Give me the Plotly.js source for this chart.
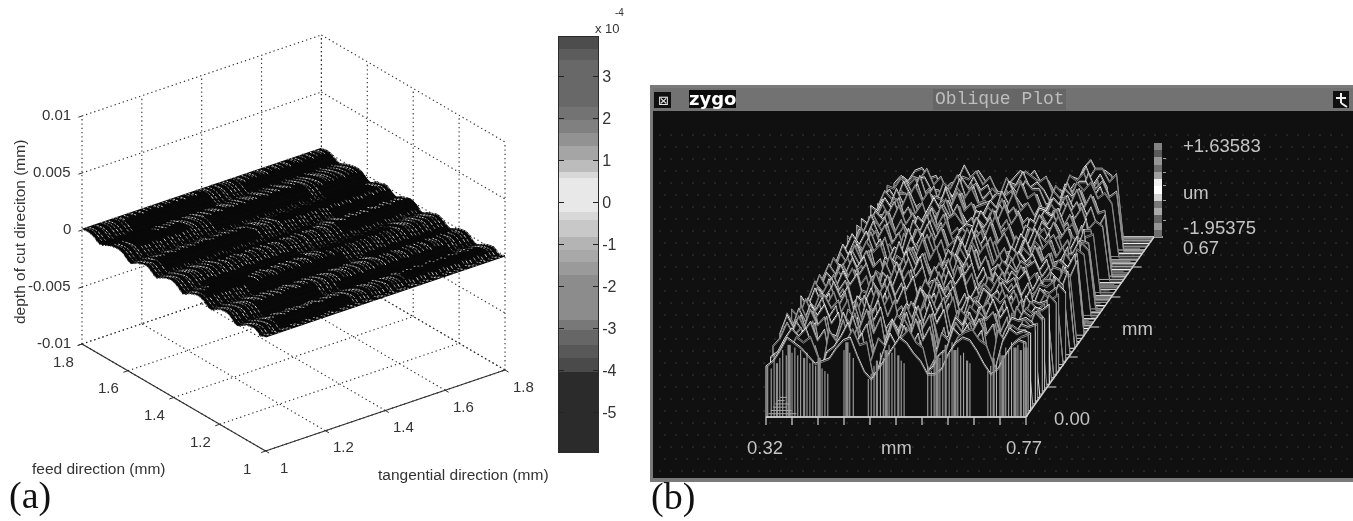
<!DOCTYPE html>
<html><head><meta charset="utf-8">
<script src="https://cdn.plot.ly/plotly-3.0.1.min.js"></script>
<style>html,body{margin:0;padding:0;background:#fff}#g{width:1353px;height:521px;filter:blur(0.45px)}</style>
</head><body><div id="g"></div>
<script>
// ---------- panel (a) data ----------
const tangentTicks=[1,1.2,1.4,1.6,1.8];
const feedTicks=[1,1.2,1.4,1.6,1.8];
const depthTicks=[-0.01,-0.005,0,0.005,0.01];
const depthTickText=['-0.01','-0.005','0','0.005','0.01'];
// surface height (1e-4 mm) along feed direction, back (1.8) to front (1.0)
const feedProfile=[.5,1,1.5,1,0,-2,-3.5,-3,-1.5,-.5,.5,1,1.5,1.5,.5,-1.5,-3.5,-4.5,-3,-1,-.5,.5,1.5,1,-1,-3,-4,-2.5,-1,0,1,1.5,1,-.5,-2.5,-4.5,-3.5,-1.5,-.5,.5,1.5,1.5,.5,-1.5,-3.5,-4,-2.5,-1,.5,1,1.5,1,-1,-3.5,-4.5,-3.5,-1.5,0,1,1.5,2,.5,-2,-1,0];
// small change (1e-4 mm) along tangential direction
const tangentProfile=[0,.5,-.5,1,-1,.5,0,-.5,1,.5,-1,0,1,-.5,.5,-1,0,.5,1,-.5,-1,.5,0,1,-.5,.5,-1,.5,0,-1,1,.5,-.5,0,1,-1,.5,0,-.5,1,.5,-1,0,.5,-.5,1,0,-1,.5,1,-.5,0,.5,-1,1,0,-.5,.5,1,-1,0,.5,-.5,0];
// stretches of the mesh that read as black: [first row, last row, first column, last column]
const darkPatches=[[2,6,10,30],[3,5,40,62],[10,13,5,18],[11,15,24,48],[18,22,36,60],[20,24,4,28],[26,28,14,40],[30,33,44,63],[34,37,6,30],[36,39,34,52],[42,45,12,36],[44,47,42,62],[50,54,8,22],[52,55,28,56],[57,60,40,60],[58,61,6,24],[14,17,52,63],[6,9,0,12],[24,27,48,63],[38,41,2,14]];
const barEdges=[-5.95,-4.05,-3.71,-3.40,-3.05,-2.81,-1.74,-1.43,-1.14,-0.83,-0.43,-0.24,0.57,0.71,1.0,1.33,1.64,1.95,2.26,3.38,3.64,3.93];
const barGrays=[43,74,88,102,120,140,154,168,180,200,216,232,216,188,165,146,128,115,104,92,77];
const barTicks=[-5,-4,-3,-2,-1,0,1,2,3];

// ---------- panel (b) data ----------
const N=-19.5; // no data: the row sits on the base plane
// height (0.1 um) back row to front row, 0.32 to 0.77 mm
const obliqueRows=[
[1,4,2,6,7,3,4,-2,1,2,8,3,6,2,1,-3,0,3,6,3,6,1,2,-3,-3,2,1,7,10,5,6,4,N,N,N,N,N,N],
[0,2,5,4,8,2,5,-1,-2,5,4,7,2,5,-1,-1,2,1,7,5,3,5,-2,0,-3,3,4,4,8,8,3,6,N,N,N,N,N,N],
[2,1,6,3,5,6,1,1,-3,3,7,1,6,1,3,-4,0,4,3,8,2,4,1,-4,-1,0,6,5,10,3,7,2,N,N,N,N,N,N],
[-1,4,3,7,4,7,0,3,-2,5,3,8,2,5,-2,0,3,0,7,3,6,0,3,-1,-4,4,1,8,6,9,2,6,N,N,N,N,N,N],
[1,2,7,2,9,1,5,-3,2,1,8,4,6,0,3,-3,-1,5,2,7,4,4,-2,-1,-2,2,6,3,10,4,7,1,3,N,N,N,N,N],
[2,5,1,8,3,7,-1,3,-3,6,2,9,1,6,-2,-1,3,1,8,2,7,-1,3,-4,1,-1,7,4,8,8,2,6,-1,N,N,N,N,N],
[-1,3,6,3,8,2,6,-2,3,0,7,3,7,1,2,-4,0,6,2,9,3,5,-2,0,-2,4,2,9,6,9,3,5,1,N,N,N,N,N],
[2,1,7,4,6,6,0,2,-3,5,4,8,1,6,-3,1,2,3,6,5,7,0,2,-4,1,0,7,4,10,4,7,0,3,N,N,N,N,N],
[0,5,2,9,3,7,1,-1,1,2,9,2,7,0,3,-4,3,0,8,3,6,2,-1,-2,-2,5,2,9,6,9,2,6,-1,N,N,N,N,N],
[2,2,7,3,9,1,5,-3,3,6,3,9,2,5,-2,0,1,5,3,9,2,5,0,-4,1,1,7,4,10,3,8,1,2,N,N,N,N,N],
[-1,5,3,8,4,8,-1,2,-2,3,8,3,7,1,2,-3,3,2,7,4,7,0,3,-3,-2,4,3,8,5,9,3,6,0,N,N,N,N,N],
[2,1,7,2,9,2,5,-2,2,6,2,9,1,6,-3,1,0,6,3,9,2,5,-2,-1,0,1,7,3,10,4,7,1,3,N,N,N,N,N],
[0,4,4,9,3,7,0,2,-3,4,8,3,8,0,3,-4,3,1,8,4,7,0,3,-4,-1,5,2,9,5,9,2,7,-1,4,N,N,N,N],
[2,2,7,3,9,2,6,-3,3,1,9,4,6,2,0,-2,0,6,3,9,2,6,-2,0,1,1,7,4,10,4,8,0,3,1,N,N,N,N],
[-1,5,3,8,5,7,-1,3,-2,6,3,9,1,7,-3,1,3,2,8,4,8,0,3,-4,-2,5,3,8,6,9,2,6,-1,5,N,N,N,N],
[2,1,8,3,9,1,6,-3,2,2,9,3,8,0,3,-4,0,6,3,10,2,6,-2,-1,1,0,8,3,10,3,8,1,2,2,N,N,N,N],
[0,5,3,9,4,8,0,2,-2,7,3,9,1,6,-2,0,4,1,8,4,8,0,4,-4,-2,5,3,9,5,9,3,6,-2,5,N,N,N,N],
[3,1,8,4,8,2,6,-3,3,1,9,3,8,1,2,-3,0,6,3,10,3,6,-2,0,1,1,7,4,10,4,7,1,2,3,N,N,N,N],
[-1,6,3,9,3,8,-1,2,-2,6,4,9,2,6,-2,-1,4,2,9,3,8,0,3,-4,-2,6,2,9,6,8,3,6,-2,6,N,N,N,N],
[3,1,8,4,9,2,6,-3,3,2,9,3,8,0,3,-4,0,7,3,10,2,6,-1,-2,1,1,8,4,10,4,8,0,3,2,N,N,N,N],
[0,6,3,9,4,8,0,3,-3,7,3,9,2,7,-3,1,4,1,9,4,8,0,4,-4,-1,6,2,9,6,9,3,6,-2,6,3,N,N,N],
[3,2,8,4,9,2,6,-3,3,1,10,3,8,1,2,-4,0,7,2,10,3,7,-2,0,1,1,8,4,10,4,8,0,3,2,7,N,N,N],
[-1,6,3,10,3,8,-1,3,-2,6,4,9,2,7,-2,-1,4,2,9,3,8,0,4,-4,-2,6,3,9,6,9,3,7,-2,6,3,N,N,N],
[3,2,8,4,9,2,7,-3,3,2,9,4,8,0,3,-4,0,7,3,10,2,7,-2,-1,1,1,8,4,11,4,8,0,3,3,8,N,N,N],
[0,6,3,9,5,8,0,3,-3,7,3,10,2,7,-3,1,4,2,9,4,8,0,4,-5,-1,6,3,9,6,9,3,7,-3,6,4,N,N,N],
[3,2,9,4,9,2,7,-4,4,2,10,3,8,1,2,-4,0,7,3,10,3,7,-2,-1,1,1,8,5,11,4,8,0,2,3,8,N,N,N],
[-1,7,3,10,4,8,-1,3,-2,6,4,9,3,7,-3,0,4,2,9,4,8,-1,4,-5,-2,6,3,9,6,9,3,7,-3,7,3,N,N,N],
[3,2,9,4,9,3,6,-4,3,2,10,4,8,0,3,-5,1,7,3,11,2,7,-2,-1,1,2,8,4,11,5,8,0,3,3,8,N,N,N],
[0,6,4,10,4,8,0,2,-3,7,4,10,2,8,-3,0,4,2,9,4,9,-1,4,-5,-1,6,3,10,6,9,3,7,-3,7,4,9,N,N],
[3,2,9,5,9,3,6,-4,4,2,10,3,9,0,3,-5,1,7,3,11,3,7,-3,0,1,2,8,5,11,4,8,0,2,3,8,6,N,N],
[-1,7,4,10,4,8,-1,3,-3,7,4,10,3,7,-3,0,4,2,10,4,8,-1,4,-5,-2,6,4,9,7,9,3,7,-3,7,3,9,N,N],
[3,3,9,5,9,3,7,-4,3,2,10,4,9,0,3,-5,1,8,3,11,3,7,-3,-1,1,2,9,5,11,5,8,0,2,4,8,7,N,N],
[0,7,4,10,5,8,0,2,-3,7,4,11,2,8,-4,1,4,2,10,4,9,-1,4,-5,-1,7,3,10,7,9,3,7,-4,7,4,9,N,N],
[3,3,9,5,10,3,7,-4,4,3,10,4,9,0,3,-5,1,8,3,11,3,8,-3,0,1,2,9,5,11,5,8,0,2,3,9,7,N,N],
[-1,7,4,10,5,9,-1,3,-3,7,4,11,3,8,-4,0,5,2,10,5,9,-1,4,-5,-2,7,4,10,7,10,3,8,-4,8,3,10,N,N],
[3,3,10,5,10,3,7,-4,4,3,11,4,9,0,3,-5,1,8,4,11,3,8,-3,-1,1,2,9,6,11,5,9,0,2,4,8,8,N,N],
[0,7,4,10,5,9,0,3,-4,8,4,11,3,8,-4,1,5,2,10,5,9,-1,4,-5,-1,7,4,10,8,10,3,8,-4,8,4,10,7,N],
[3,3,10,5,10,3,7,-5,4,3,11,5,9,0,3,-5,1,8,4,11,3,8,-4,0,1,3,9,6,11,5,9,0,1,4,9,8,10,N],
[-1,8,4,11,5,9,-1,3,-3,8,4,11,3,9,-4,0,5,3,10,5,9,-1,5,-5,-2,7,4,11,7,10,3,8,-5,8,4,10,7,N],
[3,3,10,6,10,3,8,-5,4,3,12,4,10,0,3,-6,1,9,4,12,3,8,-4,-1,1,3,9,6,12,5,9,0,1,5,9,8,10,N],
[0,8,4,11,5,9,-1,3,-4,8,5,11,3,9,-4,0,5,3,11,5,9,-2,5,-6,-1,8,4,11,8,10,4,8,-5,8,4,11,8,N],
[3,3,10,6,11,3,8,-5,4,3,12,5,10,0,3,-6,1,9,4,12,3,9,-4,-1,1,3,10,6,12,5,10,0,1,5,10,8,10,N],
[-1,8,5,11,6,9,-2,3,-4,8,5,12,3,9,-5,0,5,3,11,5,10,-2,5,-6,-2,8,4,11,8,11,4,9,-6,8,5,11,8,N],
[3,4,11,6,11,4,8,-5,5,3,12,5,10,-1,3,-6,2,9,4,12,4,9,-4,-1,1,3,10,7,12,5,10,-1,1,5,10,9,10,N],
[0,8,5,12,6,10,-2,3,-4,8,5,12,4,9,-5,0,6,3,11,6,10,-2,5,-6,-1,8,5,11,8,11,4,9,-6,9,5,11,8,10],
[3,4,11,7,11,4,8,-6,5,3,13,5,10,-1,3,-6,2,10,4,12,4,9,-5,-1,1,3,10,7,13,6,10,-1,0,6,10,9,11,8],
[-1,9,5,12,6,10,-2,3,-4,9,5,13,4,10,-5,0,6,3,12,6,10,-2,5,-6,-1,8,5,12,9,11,4,9,-6,9,5,11,9,10],
[3,4,12,7,11,4,9,-6,5,4,13,5,11,-1,3,-6,2,10,5,13,4,10,-5,-1,2,3,11,7,13,6,10,-1,-1,6,11,9,11,8],
[-1,9,5,13,7,10,-2,3,-4,9,6,13,4,10,-6,0,6,3,12,6,11,-3,6,-6,-1,9,5,12,9,12,4,10,-6,9,5,12,9,10],
[2,5,12,7,12,4,9,-6,5,4,13,6,11,-2,3,-6,2,10,5,13,4,10,-5,-2,2,4,11,8,13,6,11,-2,-1,6,11,10,11,9],
[-1,9,6,13,7,11,-3,4,-5,9,6,14,4,11,-6,0,6,4,12,7,11,-3,6,-6,-1,9,5,13,9,12,5,10,-6,10,5,12,9,10],
[2,5,12,8,12,5,9,-6,5,4,14,6,11,-2,3,-6,3,11,5,13,5,10,-5,-2,2,4,12,8,13,7,11,-2,-2,7,11,10,11,9],
[-1,4,7,13,8,11,-3,4,-5,10,6,14,5,11,-6,-1,7,4,13,7,11,-3,6,-6,-1,9,6,13,9,13,5,11,-6,10,6,12,10,10],
[1,3,8,12,9,12,5,-5,3,5,9,14,6,10,-4,-6,3,10,5,13,5,10,-5,-3,2,4,12,9,13,7,11,-2,-3,7,12,10,11,10],
[-1,2,5,10,8,10,3,-3,1,4,8,13,7,8,-6,-5,1,6,10,13,8,6,-5,-5,-1,5,10,12,13,9,7,0,-5,3,8,10,11,10],
[0,2,6,11,9,7,4,1,2,3,7,10,11,4,-2,-5,-1,3,7,11,9,5,2,-3,-3,-1,5,9,11,10,6,1,-3,-1,4,8,10,9]];
const rowGrays=[220,170,235,150,205,245,140,190,225,165,250,135,200,175,240,155,210,130,230,185,150,245,170,215,140,235,160,195,250,145,205,180,225,135,240,165,210,150,230,190,245,140,175,220,160,250,135,200,185,235,150,215,170,240,145,225];
// sideways wander of each scan row, in samples
const rowDrift=[0,1,0,-1,1,0,1,-1,0,1,-1,0,1,1,-1,0,-1,1,0,1,-1,-1,1,0,1,-1,0,1,0,-1,1,-1,0,1,1,-1,0,-1,1,0,-1,1,1,0,-1,1,-1,0,1,-1,0,1,-1,0,1,0];
// empty floor at the front left corner: samples without data in the last rows
const hatchRows=[49,50,51,52,53,54,55];
const hatchSamples=[1,1,2,2,3,4,5];
const curtainX=[.323,.329,.334,.339,.344,.349,.355,.360,.365,.370,.375,.380,.386,.391,.396,.401,.406,.412,.417,.422,.427,.455,.460,.465,.471,.497,.502,.507,.512,.518,.523,.528,.533,.538,.543,.549,.554,.559,.600,.606,.611,.616,.621,.626,.631,.637,.642,.647,.652,.657,.662,.668,.673,.704,.709,.714,.719,.725,.730,.735,.740,.745,.751,.756,.761,.766,.770];
const curtainTop=[0,-1,5,1,3,6,4,8,5,7,4,6,3,5,1,2,0,3,-1,-2,-3,6,9,5,3,-5,-3,0,2,5,3,6,8,5,7,4,2,1,0,-2,2,4,3,6,8,5,9,6,7,4,5,2,1,-2,0,3,1,5,4,7,6,9,7,8,6,9,7];
const curtainWidth=[1,1,1,2,1,1,1,3,1,1,1,1,2,1,1,1,1,3,1,1,1,1,3,1,1,1,1,1,2,1,1,3,1,1,1,2,1,1,1,1,1,3,1,1,2,1,1,3,1,1,1,2,1,1,1,2,1,1,3,1,1,1,3,1,2,1,3];
const obliqueTicksX=[.32,.365,.41,.455,.5,.545,.59,.635,.68,.725,.77];
const obliqueTicksDepth=[.1117,.2233,.335,.4467,.5583];
const scaleEdges=[0,1,2,3,4,5,6,7,8,9,10,11,12,13];
const scaleGrays=[110,150,100,170,120,210,255,240,160,110,150,90,130];
const scaleTicks=[2.3,5.1,7.1,8.9,10.9];
const dotRows=[135,147,159,171,183,195,207,219,231,243,255,267,279,291,303,315,327,339,351,363,375,387,399,411,423,435,447,459,471];

// ---------- projections ----------
const BASE=-1.95375;
const projA=(x,y,z)=>[265.6+(x-1)*299.25-(y-1)*229.5,451-(x-1)*101.25-(y-1)*133.75-(z+0.01)*11400];
const projB=(x,d,z)=>[766+(x-.32)/.45*260+d/.67*128,417-d/.67*180-(z-BASE)*26.2];
const px=(a,b)=>[a,b];
const traces=[];
function seg(list,proj,color,width,dash){
  const xs=[],ys=[];
  list.forEach(s=>{s.forEach(p=>{const q=proj(...p);xs.push(q[0]);ys.push(q[1]);});xs.push(null);ys.push(null);});
  traces.push({type:'scatter',mode:'lines',x:xs,y:ys,hoverinfo:'skip',showlegend:false,line:{color,width,dash:dash||'solid'}});
}
// grid of panel (a)
const gridLines=[];
const zLo=depthTicks[0],zHi=depthTicks[4];
tangentTicks.forEach(t=>{gridLines.push([[t,1,zLo],[t,1.8,zLo]],[[t,1.8,zLo],[t,1.8,zHi]]);});
feedTicks.forEach(t=>{gridLines.push([[1,t,zLo],[1.8,t,zLo]],[[1.8,t,zLo],[1.8,t,zHi]]);});
depthTicks.forEach(t=>{gridLines.push([[1,1.8,t],[1.8,1.8,t]],[[1.8,1.8,t],[1.8,1,t]]);});
seg(gridLines,projA,'#2a2a2a',1.1,'1.3px,3px');
seg([[[1,1,zLo],[1.8,1,zLo]],[[1,1,zLo],[1,1.8,zLo]]],projA,'#303030',1.2);
const tickSegs=[];
tangentTicks.forEach(t=>tickSegs.push([[t,1,zLo],[t,.985,zLo]]));
feedTicks.forEach(t=>tickSegs.push([[1,t,zLo],[.985,t,zLo]]));
depthTicks.forEach(t=>tickSegs.push([[1,1.8,t],[.988,1.8,t]]));
seg(tickSegs,projA,'#303030',1);
// surface of panel (a)
const rowsA=feedProfile.length,colsA=tangentProfile.length;
const feedAt=i=>1.8-.8*i/(rowsA-1),tanAt=j=>1+.8*j/(colsA-1);
const zA=(i,j)=>(feedProfile[i]+tangentProfile[j])*1e-4;
const polyX=[],polyY=[];
for(let i=0;i<rowsA-1;i++){
  [[1,feedAt(i),feedProfile[i]],[1.8,feedAt(i),feedProfile[i]],[1.8,feedAt(i+1),feedProfile[i+1]],[1,feedAt(i+1),feedProfile[i+1]]].forEach(p=>{const q=projA(p[0],p[1],p[2]*1e-4);polyX.push(q[0]);polyY.push(q[1]);});
  polyX.push(null);polyY.push(null);
}
traces.push({type:'scatter',mode:'lines',x:polyX,y:polyY,fill:'toself',fillcolor:'#090909',line:{color:'#090909',width:1.2},hoverinfo:'skip',showlegend:false});
const bandOf=v=>{for(let b=0;b<barGrays.length;b++)if(v<barEdges[b+1])return b;return barGrays.length-1;};
const isDark=(i,j)=>darkPatches.some(p=>i>=p[0]&&i<=p[1]&&j>=p[2]&&j<=p[3]);
const meshByBand=barGrays.map(()=>[]);
for(let i=0;i<rowsA-1;i++)for(let j=0;j<colsA;j++){
  if(isDark(i,j))continue;
  const a=zA(i,j),c=zA(i+1,j),f=.62;
  meshByBand[bandOf(a*1e4)].push([[tanAt(j),feedAt(i),a],[tanAt(j),feedAt(i)+(feedAt(i+1)-feedAt(i))*f,a+(c-a)*f]]);
}
meshByBand.forEach((m,b)=>{if(m.length){const g=barGrays[b];seg(m,projA,`rgb(${g},${g},${g})`,.9);}});

// window of panel (b): background dots
const dx=[],dy=[];
dotRows.forEach((y,r)=>{for(let x=660+(r%2)*5;x<1348;x+=11){dx.push(x);dy.push(y);}});
traces.push({type:'scatter',mode:'markers',x:dx,y:dy,marker:{symbol:'square',size:1.5,color:'#343434'},hoverinfo:'skip',showlegend:false});
// rows of panel (b), back to front, each hiding what is behind
const depthAt=i=>.67*(1-i/(obliqueRows.length-1));
const xAt=k=>.32+.45*Math.min(37,Math.max(0,k))/37;
obliqueRows.forEach((row,i)=>{
  const d=depthAt(i),pts=row.map((v,k)=>projB(xAt(k+rowDrift[i]),d,v/10));
  const l=projB(xAt(0),d,BASE),r=projB(xAt(row.length-1),d,BASE);
  const xs=[l[0],...pts.map(p=>p[0]),r[0]],ys=[l[1],...pts.map(p=>p[1]),r[1]];
  const g=rowGrays[i];
  traces.push({type:'scatter',mode:'lines',x:xs.concat([l[0]]),y:ys.concat([l[1]]),fill:'toself',fillcolor:'#101010',line:{color:`rgb(${g},${g},${g})`,width:1},hoverinfo:'skip',showlegend:false});
  traces.push({type:'scatter',mode:'lines',x:pts.map(p=>p[0]),y:pts.map(p=>p[1]+1.6),line:{color:'#848484',width:1},hoverinfo:'skip',showlegend:false});
});
// front curtain
[1,2,3].forEach(w=>{
  const list=[];
  curtainX.forEach((x,i)=>{if(curtainWidth[i]===w)list.push([[x,0,BASE],[x,0,curtainTop[i]/10]]);});
  seg(list,projB,w===1?'#b4b4b4':'#8e8e8e',w===1?1:w*1.1);
});
// empty floor at the front left corner
seg(hatchRows.map((r,i)=>[[xAt(0),depthAt(r),BASE],[xAt(hatchSamples[i]),depthAt(r),BASE]]),projB,'#a8a8a8',1);
// axes of panel (b)
seg([[[.32,0,BASE],[.77,0,BASE]],[[.77,0,BASE],[.77,.67,BASE]]],projB,'#d2d2d2',1.4);
seg(obliqueTicksX.map(x=>{const q=projB(x,0,BASE);return [[q[0],q[1]],[q[0],q[1]+8]];}),px,'#d2d2d2',1.2);
seg(obliqueTicksDepth.map(d=>{const q=projB(.77,d,BASE);return [[q[0],q[1]],[q[0]+9,q[1]]];}),px,'#bdbdbd',1.2);
{const q=projB(.77,.67,BASE);seg([[[q[0],q[1]],[q[0]+9,q[1]]]],px,'#d2d2d2',1.4);}

// colour bars
traces.push({type:'heatmap',xaxis:'x2',yaxis:'y2',x:[0,1],y:barEdges,z:barGrays.map(g=>[g]),zmin:0,zmax:255,colorscale:[[0,'#000'],[1,'#fff']],showscale:false,hoverinfo:'skip'});
traces.push({type:'heatmap',xaxis:'x3',yaxis:'y3',x:[0,1],y:scaleEdges,z:scaleGrays.map(g=>[g]),zmin:0,zmax:255,colorscale:[[0,'#000'],[1,'#fff']],showscale:false,hoverinfo:'skip'});

// text
const ann=[];
const SANS='"Liberation Sans",Arial,sans-serif';
const txt=(text,x,y,size,color,extra)=>ann.push(Object.assign({text,x,y,xref:'x',yref:'y',showarrow:false,xanchor:'center',yanchor:'middle',font:{family:SANS,size,color}},extra||{}));
const INK='#333333',TERM='#c4c4c4';
depthTicks.forEach((t,i)=>{const q=projA(1,1.8,t);txt(depthTickText[i],q[0]-9,q[1]-2,15,INK,{xanchor:'right'});});
feedTicks.forEach(t=>{const q=projA(1,t,zLo);txt(String(t),q[0]-19,q[1]+17,15,INK);});
tangentTicks.forEach(t=>{const q=projA(t,1,zLo);txt(String(t),q[0]+18,q[1]+16,15,INK);});
txt('feed direction (mm)',99,468,15.5,INK);
txt('tangential direction (mm)',463,474,15.5,INK);
txt('depth of cut direciton (mm)',19,232,15.5,INK,{textangle:-90});
txt('x 10',607,28,13,INK);
txt('-4',619,12,10,INK);
txt('(a)',30,495,38,'#111',{font:{family:'"Liberation Serif",serif',size:38,color:'#111'}});
txt('(b)',673,496,38,'#111',{font:{family:'"Liberation Serif",serif',size:38,color:'#111'}});
txt('+1.63583',1181,145,18.5,TERM,{xanchor:'left'});
txt('um',1181,192,18.5,TERM,{xanchor:'left'});
txt('-1.95375',1181,227,18.5,TERM,{xanchor:'left'});
txt('0.67',1181,247,18.5,TERM,{xanchor:'left'});
txt('mm',1137,328,18.5,TERM);
txt('0.00',1072,418,18.5,TERM);
txt('0.32',765,447,18.5,TERM);
txt('mm',896,447,18.5,TERM);
txt('0.77',1024,447,18.5,TERM);
txt('Oblique Plot',1000,99,18,'#bdbdbd',{font:{family:'"Liberation Mono",monospace',size:18,color:'#bdbdbd'}});
txt('zygo',712,98,18,'#ffffff',{font:{family:'"DejaVu Sans",sans-serif',size:18,color:'#ffffff',weight:700}});
txt('⊠',663,100,13,'#e8e8e8',{font:{family:'"DejaVu Sans",sans-serif',size:13,color:'#e8e8e8'}});

const rect=(x0,y0,x1,y1,fill)=>({type:'rect',xref:'x',yref:'y',x0,y0,x1,y1,fillcolor:fill,line:{width:0},layer:'below'});
const wire=(x0,y0,x1,y1)=>({type:'line',xref:'x',yref:'y',x0,y0,x1,y1,line:{color:'#f0f0f0',width:2}});
const shapes=[
  rect(650,85,1353,482,'#7a7a7a'),
  rect(653,88,1353,111,'#727272'),
  rect(933,89,1066,110,'#666666'),
  rect(653,111,1353,478,'#101010'),
  rect(654,92,671,108,'#101010'),
  rect(689,90,736,108,'#0c0c0c'),
  rect(1333,91,1349,108,'#101010'),
  wire(1341,93,1341,103),wire(1336,98,1346,98),wire(1341,103,1347,107)
];
Plotly.newPlot('g',traces,{
  width:1353,height:521,margin:{l:0,r:0,t:0,b:0},paper_bgcolor:'#fff',plot_bgcolor:'rgba(0,0,0,0)',showlegend:false,
  xaxis:{range:[0,1353],visible:false,fixedrange:true,domain:[0,1]},
  yaxis:{range:[521,0],visible:false,fixedrange:true,domain:[0,1]},
  xaxis2:{domain:[559/1353,598/1353],anchor:'y2',range:[0,1],showticklabels:false,ticks:'',showgrid:false,zeroline:false,showline:true,mirror:true,linecolor:'#2a2a2a',linewidth:1},
  yaxis2:{domain:[69/521,484/521],anchor:'x2',side:'right',range:[-5.95,3.93],tickvals:barTicks,ticktext:barTicks.map(String),ticks:'inside',ticklen:5,tickcolor:'#222',showgrid:false,zeroline:false,showline:true,mirror:'ticks',linecolor:'#2a2a2a',linewidth:1,tickfont:{family:SANS,size:16,color:INK}},
  xaxis3:{domain:[1154/1353,1162/1353],anchor:'y3',range:[0,1],visible:false},
  yaxis3:{domain:[284/521,378/521],anchor:'x3',side:'right',range:[0,13],tickvals:scaleTicks,showticklabels:false,ticks:'outside',ticklen:3,tickcolor:'#a0a0a0',showgrid:false,zeroline:false,showline:false},
  shapes,annotations:ann
},{displayModeBar:false,staticPlot:true});
</script></body></html>
